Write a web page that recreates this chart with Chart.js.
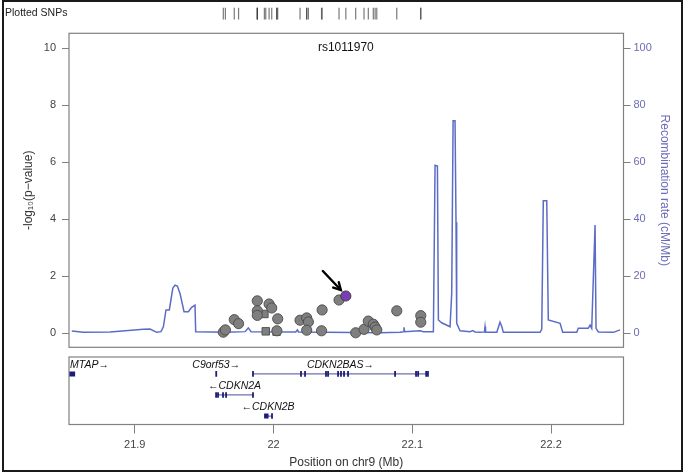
<!DOCTYPE html>
<html>
<head>
<meta charset="utf-8">
<script src="https://cdn.jsdelivr.net/npm/chart.js@4.4.0/dist/chart.umd.min.js"></script>
<style>
  html, body { margin:0; padding:0; background:#fff; }
  #wrap { position:relative; width:685px; height:475px; overflow:hidden; }
  #wrap canvas { position:absolute; left:0; top:0; }
  #border { position:absolute; left:2px; top:0; width:681px; height:472px; box-sizing:border-box; border:2px solid #1a1a1a; pointer-events:none; }
</style>
</head>
<body>
<div id="wrap">
  <canvas id="rug" width="685" height="475"></canvas>
  <canvas id="main" width="685" height="475"></canvas>
  <canvas id="genes" width="685" height="475"></canvas>
  <div id="border"></div>
</div>
<script>
// region shown: rs1011970 +/- 200 kb (chr9, Mb)
const xMin = 21.8526, xMax = 22.2522;
const xTicks = [21.9, 22.0, 22.1, 22.2];
const pTicks = [0, 2, 4, 6, 8, 10];
const recTicks = [0, 20, 40, 60, 80, 100];
const pMin = -0.49, pMax = 10.53;

// SNPs (grey circles)
const snpPos  = [21.9638, 21.9653, 21.9717, 21.9748, 21.9883, 21.9883, 21.9883, 21.9968, 21.9987, 22.0030,
                 22.0024, 22.0191, 22.0239, 22.0251, 22.0239, 22.0346, 22.0350, 22.0472, 22.0592, 22.0652,
                 22.0683, 22.0719, 22.0732, 22.0744, 22.0888, 22.1061, 22.1061];
const snpLogP = [0.04, 0.12, 0.48, 0.34, 1.14, 0.79, 0.63, 1.03, 0.89, 0.51,
                 0.09, 0.46, 0.54, 0.40, 0.11, 0.09, 0.82, 1.17, 0.02, 0.14,
                 0.43, 0.32, 0.22, 0.12, 0.79, 0.62, 0.39];
// SNPs (grey squares)
const sqPos  = [21.9934, 21.9944, 22.0022];
const sqLogP = [0.68, 0.07, 0.06];
// lead SNP
const leadName = "rs1011970";
const leadPos  = [22.0521];
const leadLogP = [1.31];

// recombination rate (cM/Mb)
const recPos  = [21.8546, 21.8629, 21.8822, 21.9062, 21.9110, 21.9158, 21.9189, 21.9206, 21.9225, 21.9249,
                 21.9274, 21.9290, 21.9307, 21.9326, 21.9355, 21.9386, 21.9410, 21.9434, 21.9439, 21.9663,
                 21.9795, 21.9818, 21.9838, 22.0160, 22.0172, 22.0180, 22.0768, 22.0912, 22.0935, 22.0940,
                 22.0945, 22.1056, 22.1080, 22.1152, 22.1164, 22.1181, 22.1188, 22.1212, 22.1272, 22.1284,
                 22.1294, 22.1308, 22.1315, 22.1320, 22.1344, 22.1416, 22.1436, 22.1452, 22.1488, 22.1520,
                 22.1524, 22.1528, 22.1609, 22.1632, 22.1645, 22.1656, 22.1921, 22.1933, 22.1944, 22.1969,
                 22.1980, 22.2065, 22.2084, 22.2185, 22.2196, 22.2268, 22.2281, 22.2293, 22.2317, 22.2324,
                 22.2341, 22.2449, 22.2497];
const recRate = [0.8, 0.35, 0.5, 1.4, 1.5, 0.35, 0.6, 2.3, 8.2, 8.2,
                 15.8, 16.9, 16.6, 14.0, 7.6, 7.6, 9.1, 9.9, 0.56, 0.4,
                 0.6, 1.9, 0.6, 0.5, 1.2, 0.5, 0.2, 0.4, 0.56, 2.1,
                 0.6, 0.9, 0.56, 0.56, 59.0, 58.7, 4.7, 3.7, 2.3, 14.0,
                 74.6, 74.6, 39.0, 3.5, 0.9, 0.56, 1.0, 0.5, 0.35, 0.5,
                 2.3, 0.4, 0.35, 3.9, 2.4, 0.35, 0.35, 1.5, 46.5, 46.5,
                 4.7, 3.5, 0.35, 0.35, 1.75, 1.75, 2.9, 1.75, 38.0, 1.75,
                 0.5, 0.35, 1.2];

// genes
const geneNames  = ["MTAP", "C9orf53", "CDKN2BAS", "CDKN2A", "CDKN2B"];
const geneStart  = [21.7926, 21.9584, 21.9852, 21.9586, 21.9932];
const geneEnd    = [21.8570, 21.9590, 22.1113, 21.9852, 21.9989];
const geneStrand = ["+", "+", "+", "-", "-"];
const geneRow    = [3, 3, 3, 2, 1];
const geneExons  = [
  [],
  [21.9587],
  [21.9852, 22.0198, 22.0227, 22.0378, 22.0393, 22.0465, 22.0486, 22.0508, 22.0537, 22.0876, 22.1027, 22.1042, 22.1100, 22.1113],
  [21.9586, 21.9600, 21.9636, 21.9658, 21.9852],
  [21.9989]
];
const geneBoxes  = [[21.7926, 21.8570], null, null, null, [21.9932, 21.9964]];

const FONT = "'Liberation Sans', Arial, sans-serif";
Chart.defaults.font.family = FONT;
Chart.defaults.animation = false;
Chart.defaults.events = [];
Chart.defaults.plugins.legend.display = false;
Chart.defaults.plugins.tooltip.enabled = false;

const GREY = "#808080", RECOMB = "#5b6cc6", RECTXT = "#6b6bb8", GENE = "#6f6fae", EXON = "#1d1d78";

const frame = {
  id: "frame",
  afterDraw(c) {
    const { ctx, chartArea: a } = c;
    ctx.save();
    ctx.strokeStyle = GREY; ctx.lineWidth = 1.2;
    ctx.strokeRect(a.left, a.top, a.right - a.left, a.bottom - a.top);
    ctx.restore();
  }
};
const setTicks = arr => s => { s.ticks = arr.map(v => ({ value: v })); };

// --- top strip: plotted SNPs
const rugPos = [...snpPos, ...sqPos, ...leadPos];
new Chart(document.getElementById("rug"), {
  type: "scatter",
  data: { datasets: [{
    data: rugPos.map(x => ({ x, y: 0.5 })),
    pointStyle: "line", rotation: 90, pointRadius: 6.5,
    borderColor: "rgba(50,50,50,0.65)", borderWidth: 1.2
  }]},
  options: {
    responsive: false,
    layout: { padding: { left: 69, right: 61.5, top: 6.5, bottom: 455.5 } },
    scales: {
      x: { type: "linear", min: xMin, max: xMax, display: false },
      y: { min: 0, max: 1, display: false }
    }
  },
  plugins: [{
    id: "rugLabel",
    afterDraw(c) {
      const ctx = c.ctx;
      ctx.save();
      ctx.font = "10.5px " + FONT; ctx.fillStyle = "#222";
      ctx.textBaseline = "middle"; ctx.textAlign = "left";
      ctx.fillText("Plotted SNPs", 5, 13);
      ctx.restore();
    }
  }]
});

// --- main association panel
const leadArrow = {
  id: "leadArrow",
  afterDatasetsDraw(c) {
    const { ctx } = c;
    const p = c.getDatasetMeta(2).data[0];
    ctx.save();
    ctx.strokeStyle = "#000"; ctx.lineWidth = 2.4; ctx.lineCap = "round";
    const tx = p.x - 5, ty = p.y - 6, sx = p.x - 23, sy = p.y - 25;
    ctx.beginPath(); ctx.moveTo(sx, sy); ctx.lineTo(tx, ty); ctx.stroke();
    const ang = Math.atan2(ty - sy, tx - sx), hl = 8;
    ctx.beginPath();
    ctx.moveTo(tx - hl * Math.cos(ang - 0.5), ty - hl * Math.sin(ang - 0.5));
    ctx.lineTo(tx, ty);
    ctx.lineTo(tx - hl * Math.cos(ang + 0.5), ty - hl * Math.sin(ang + 0.5));
    ctx.stroke();
    ctx.font = "12px " + FONT; ctx.fillStyle = "#111";
    ctx.textAlign = "center"; ctx.textBaseline = "middle";
    ctx.fillText(leadName, p.x, c.scales.y.getPixelForValue(10) - 1);
    ctx.restore();
  }
};

new Chart(document.getElementById("main"), {
  type: "scatter",
  data: { datasets: [
    { data: snpPos.map((x, i) => ({ x, y: snpLogP[i] })), pointStyle: "circle", pointRadius: 5.1,
      backgroundColor: "#7f7f7f", borderColor: "#4a4a4a", borderWidth: 0.9, order: 2 },
    { data: sqPos.map((x, i) => ({ x, y: sqLogP[i] })), pointStyle: "rect", pointRadius: 5.3,
      backgroundColor: "#7f7f7f", borderColor: "#4a4a4a", borderWidth: 0.9, order: 2 },
    { data: leadPos.map((x, i) => ({ x, y: leadLogP[i] })), pointStyle: "circle", pointRadius: 5.1,
      backgroundColor: "#7a3db5", borderColor: "#3a3a3a", borderWidth: 0.9, order: 1 },
    { type: "line", yAxisID: "y2", data: recPos.map((x, i) => ({ x, y: recRate[i] })),
      borderColor: RECOMB, borderWidth: 1.5, pointRadius: 0, tension: 0, order: 5 }
  ]},
  options: {
    responsive: false,
    layout: { padding: { top: 33.3, bottom: 127.7, left: 0, right: 0 } },
    scales: {
      x: { type: "linear", min: xMin, max: xMax, display: false },
      y: {
        position: "left", min: pMin, max: pMax,
        afterBuildTicks: setTicks(pTicks),
        afterFit: s => { s.width = 69; },
        grid: { drawOnChartArea: false, tickLength: 7, color: GREY },
        border: { display: false },
        ticks: { color: "#444", font: { size: 11 }, padding: 6 },
        title: { display: true, text: "-log\u2081\u2080(p\u2212value)", color: "#333", font: { size: 12 }, padding: { top: 21, bottom: 0 } }
      },
      y2: {
        position: "right", min: pMin * 10, max: pMax * 10,
        afterBuildTicks: setTicks(recTicks),
        afterFit: s => { s.width = 61.5; },
        grid: { drawOnChartArea: false, tickLength: 7, color: GREY },
        border: { display: false },
        ticks: { color: RECTXT, font: { size: 11 }, padding: 3 },
        title: { display: true, text: "Recombination rate (cM/Mb)", color: RECTXT, font: { size: 12 }, padding: { top: 13, bottom: 0 } }
      }
    }
  },
  plugins: [frame, leadArrow]
});

// --- gene panel + position axis
const geneSets = geneNames.map((n, i) => ({
  type: "line", data: [{ x: geneStart[i], y: geneRow[i] }, { x: geneEnd[i], y: geneRow[i] }],
  borderColor: GENE, borderWidth: 1.2, pointRadius: 0, clip: 0
}));
const boxSets = geneBoxes.map((b, i) => b && ({
  type: "line", data: [{ x: b[0], y: geneRow[i] }, { x: b[1], y: geneRow[i] }],
  borderColor: EXON, borderWidth: 5, borderCapStyle: "butt", pointRadius: 0, clip: 0
})).filter(Boolean);
const exonPts = [];
geneExons.forEach((arr, i) => arr.forEach(p => exonPts.push({ x: p, y: geneRow[i] })));
const exonSet = {
  type: "scatter", data: exonPts, pointStyle: "line", rotation: 90, pointRadius: 2.8,
  borderColor: EXON, borderWidth: 1.8, clip: 0
};

const geneLabels = {
  id: "geneLabels",
  afterDatasetsDraw(c) {
    const { ctx, chartArea } = c, xs = c.scales.x, ys = c.scales.y;
    ctx.save();
    ctx.font = "italic 10.5px " + FONT; ctx.fillStyle = "#111";
    ctx.textBaseline = "middle"; ctx.textAlign = "left";
    geneNames.forEach((name, i) => {
      const label = geneStrand[i] === "+" ? name + "\u2192" : "\u2190" + name;
      const a = xs.getPixelForValue(Math.max(geneStart[i], xMin));
      const b = xs.getPixelForValue(Math.min(geneEnd[i], xMax));
      const w = ctx.measureText(label).width;
      const lx = Math.max((a + b) / 2 - w / 2, chartArea.left + 1);
      ctx.fillText(label, lx, ys.getPixelForValue(geneRow[i]) - 8.5);
    });
    ctx.restore();
  }
};

new Chart(document.getElementById("genes"), {
  type: "scatter",
  data: { datasets: [exonSet, ...boxSets, ...geneSets] },
  options: {
    responsive: false,
    layout: { padding: { top: 357, bottom: 0, left: 69, right: 61.5 } },
    scales: {
      x: {
        type: "linear", min: xMin, max: xMax, position: "bottom",
        afterBuildTicks: setTicks(xTicks),
        afterFit: s => { s.height = 50.5; },
        grid: { drawOnChartArea: false, tickLength: 9, color: GREY },
        border: { display: false },
        ticks: { color: "#444", font: { size: 11 }, padding: 5, callback: v => String(v) },
        title: { display: true, text: "Position on chr9 (Mb)", color: "#333", font: { size: 12 }, padding: { top: 0, bottom: 5 } }
      },
      y: { min: 0.6, max: 3.8, display: false }
    }
  },
  plugins: [frame, geneLabels]
});
</script>
</body>
</html>
